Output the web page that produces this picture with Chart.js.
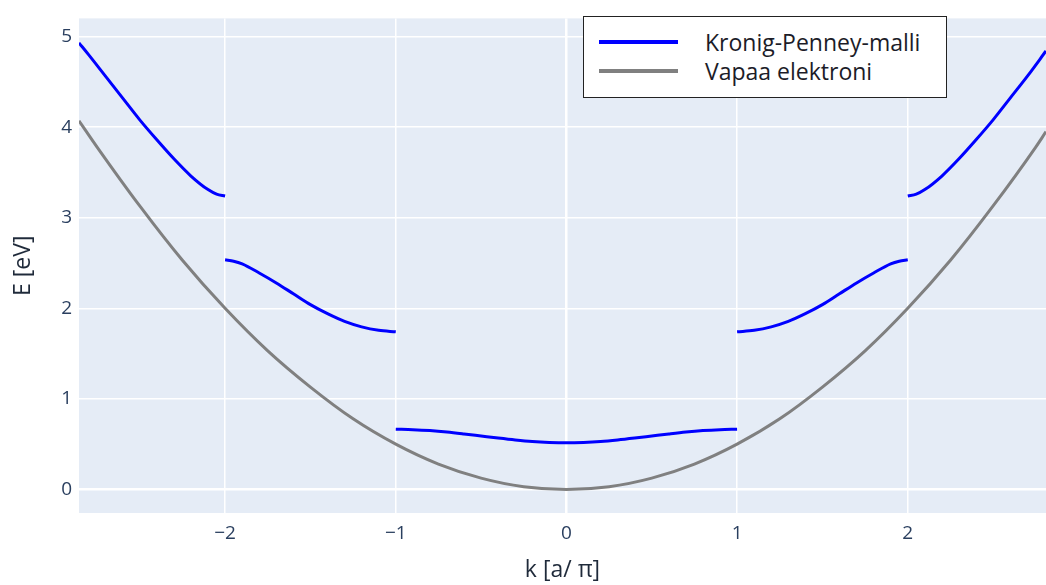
<!DOCTYPE html>
<html>
<head>
<meta charset="utf-8">
<script src="https://cdn.jsdelivr.net/npm/chart.js@4"></script>
<style>
  body { margin: 0; background: #fff; }
  #wrap { position: relative; width: 1046px; height: 585px; }
  #legend {
    position: absolute; left: 583px; top: 16px; width: 362px; height: 80px;
    background: #fff; border: 1.5px solid #222; box-sizing: content-box;
    font-family: "Open Sans", sans-serif; font-size: 23px; color: #1c1c28;
  }
  .row { position: absolute; left: 0; height: 30px; width: 100%; }
  .swatch { position: absolute; left: 15px; width: 79px; height: 4px; top: 13px; }
  .lbl { position: absolute; left: 121px; top: 0; line-height: 30px; white-space: nowrap; }
</style>
</head>
<body>
<div id="wrap">
  <canvas id="chart" width="1046" height="585"></canvas>
  <div id="legend"></div>
</div>
<script>
// values
const xTicks = [-2, -1, 0, 1, 2];
const yTicks = [0, 1, 2, 3, 4, 5];

// free electron
const kFree = [-2.856, -2.75, -2.5, -2.25, -2, -1.75, -1.5, -1.25, -1, -0.75, -0.5, -0.25, 0,
               0.25, 0.5, 0.75, 1, 1.25, 1.5, 1.75, 2, 2.25, 2.5, 2.75, 2.81];
const eFree = [4.07, 3.78, 3.13, 2.53, 2.0, 1.53, 1.13, 0.78, 0.5, 0.28, 0.125, 0.03, 0,
               0.03, 0.125, 0.28, 0.5, 0.78, 1.13, 1.53, 2.0, 2.53, 3.13, 3.78, 3.95];

// Kronig-Penney bands, left to right
const kBand3L = [-2.856, -2.8, -2.7, -2.6, -2.5, -2.4, -2.3, -2.2, -2.1, -2.05, -2];
const eBand3L = [4.93, 4.80, 4.56, 4.32, 4.08, 3.86, 3.65, 3.46, 3.31, 3.26, 3.24];
const kBand2L = [-2, -1.95, -1.9, -1.8, -1.7, -1.6, -1.5, -1.4, -1.3, -1.2, -1.1, -1];
const eBand2L = [2.535, 2.52, 2.49, 2.39, 2.28, 2.16, 2.04, 1.94, 1.855, 1.795, 1.757, 1.74];
const kBand1 = [-1, -0.9, -0.8, -0.7, -0.6, -0.5, -0.4, -0.3, -0.2, -0.1, 0,
                0.1, 0.2, 0.3, 0.4, 0.5, 0.6, 0.7, 0.8, 0.9, 1];
const eBand1 = [0.665, 0.66, 0.65, 0.634, 0.613, 0.59, 0.567, 0.546, 0.529, 0.519, 0.515,
                0.519, 0.529, 0.546, 0.567, 0.59, 0.613, 0.634, 0.65, 0.66, 0.665];
const kBand2R = [1, 1.1, 1.2, 1.3, 1.4, 1.5, 1.6, 1.7, 1.8, 1.9, 1.95, 2];
const eBand2R = [1.74, 1.757, 1.795, 1.855, 1.94, 2.04, 2.16, 2.28, 2.39, 2.49, 2.52, 2.535];
const kBand3R = [2, 2.05, 2.1, 2.2, 2.3, 2.4, 2.5, 2.6, 2.7, 2.81];
const eBand3R = [3.24, 3.26, 3.31, 3.46, 3.65, 3.86, 4.08, 4.32, 4.56, 4.84];

function pts(ks, es) {
    return ks.map((k, i) => ({ x: k, y: es[i] }));
}

// join the bands with gaps so it stays one series
let kpData = [];
[[kBand3L, eBand3L], [kBand2L, eBand2L], [kBand1, eBand1], [kBand2R, eBand2R], [kBand3R, eBand3R]]
.forEach((b, i) => {
    if (i > 0) kpData.push({ x: b[0][0], y: null });
    kpData = kpData.concat(pts(b[0], b[1]));
});

const tickColor = '#2a3f5f';

// plot background
const bgPlugin = {
    id: 'bg',
    beforeDraw(chart) {
        const a = chart.chartArea;
        chart.ctx.save();
        chart.ctx.fillStyle = '#e5ecf6';
        chart.ctx.fillRect(a.left, a.top, a.right - a.left, a.bottom - a.top);
        chart.ctx.restore();
    }
};

function fmt(v) {
    return v < 0 ? '\u2212' + Math.abs(v) : String(v);
}

const chart = new Chart(document.querySelector('#chart'), {
    type: 'line',
    data: {
        datasets: [{
            label: 'Kronig-Penney-malli',
            data: kpData,
            borderColor: '#0000ff',
            borderWidth: 3,
            pointRadius: 0,
            spanGaps: false,
            cubicInterpolationMode: 'monotone'
        }, {
            label: 'Vapaa elektroni',
            data: pts(kFree, eFree),
            borderColor: '#808080',
            borderWidth: 3,
            pointRadius: 0,
            cubicInterpolationMode: 'monotone'
        }]
    },
    options: {
        responsive: false,
        animation: false,
        layout: { padding: { top: 5, right: 0, left: 0, bottom: 0 } },
        plugins: { legend: { display: false }, tooltip: { enabled: false } },
        scales: {
            x: {
                type: 'linear',
                min: -2.856,
                max: 2.81,
                afterBuildTicks: axis => { axis.ticks = xTicks.map(v => ({ value: v })); },
                afterFit: axis => { axis.height = 72; },
                grid: {
                    color: '#ffffff',
                    lineWidth: c => (c.tick && c.tick.value === 0 ? 2.5 : 1.5),
                    drawTicks: false
                },
                border: { display: false },
                ticks: {
                    padding: 9,
                    color: tickColor,
                    font: { family: 'Open Sans', size: 19 },
                    callback: v => fmt(v)
                },
                title: {
                    display: true,
                    text: 'k [a/ \u03c0]',
                    color: '#1f2a3a',
                    font: { family: 'Open Sans', size: 23 },
                    padding: { top: 0, bottom: 1 }
                }
            },
            y: {
                type: 'linear',
                min: -0.26,
                max: 5.2,
                afterBuildTicks: axis => { axis.ticks = yTicks.map(v => ({ value: v })); },
                afterFit: axis => { axis.width = 79; },
                grid: {
                    color: '#ffffff',
                    lineWidth: c => (c.tick && c.tick.value === 0 ? 2.5 : 1.5),
                    drawTicks: false
                },
                border: { display: false },
                ticks: {
                    padding: 7,
                    color: tickColor,
                    font: { family: 'Open Sans', size: 19 },
                    callback: v => fmt(v)
                },
                title: {
                    display: true,
                    text: 'E [eV]',
                    color: '#1f2a3a',
                    font: { family: 'Open Sans', size: 23 },
                    padding: { top: 10, bottom: 0 }
                }
            }
        }
    },
    plugins: [bgPlugin]
});

// legend box from the datasets
const legend = document.querySelector('#legend');
chart.data.datasets.forEach((ds, i) => {
    const row = document.createElement('div');
    row.className = 'row';
    row.style.top = (10 + i * 29) + 'px';
    row.innerHTML = '<div class="swatch" style="background:' + ds.borderColor + '"></div>' +
                    '<div class="lbl">' + ds.label + '</div>';
    legend.appendChild(row);
});
</script>
</body>
</html>
